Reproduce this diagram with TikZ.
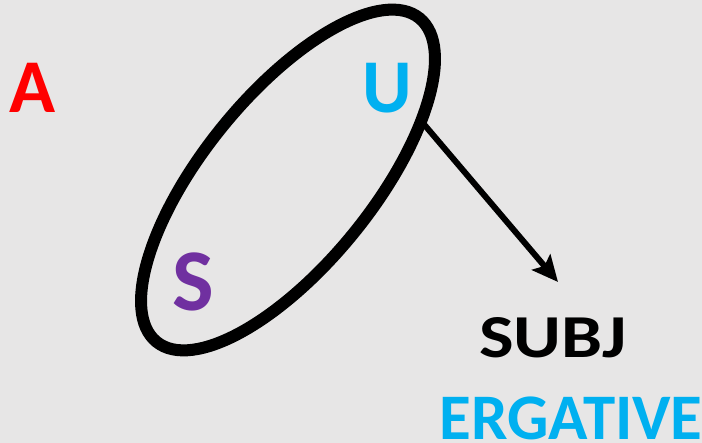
\documentclass[tikz,border=0pt]{standalone}
\usepackage{fontspec}
\setmainfont{Carlito}
\usetikzlibrary{shapes.geometric,arrows.meta}
\definecolor{bgc}{HTML}{E7E6E6}
\definecolor{cyanc}{HTML}{00B0F0}
\definecolor{purplec}{HTML}{7030A0}
\tikzset{
  lbl/.style={anchor=base, inner sep=0pt, font=\bfseries},
}
\begin{document}
\begin{tikzpicture}[x=1pt,y=1pt]
\fill[bgc] (0,0) rectangle (702,443);
\useasboundingbox (0,0) rectangle (702,443);
\node[lbl, text=red, font=\fontsize{76}{76}\selectfont\bfseries] (A) at (33,330) {A};
\node[lbl, text=cyanc, font=\fontsize{76}{76}\selectfont\bfseries] (U) at (387.5,330) {U};
\node[lbl, text=purplec, font=\fontsize{88}{88}\selectfont\bfseries] (S) at (193,132) {S};
\node[lbl, text=black, xscale=1.2, font=\fontsize{61}{61}\selectfont\bfseries] (SUBJ) at (553,85) {SUBJ};
\node[lbl, text=cyanc, font=\fontsize{65}{65}\selectfont\bfseries] (ERG) at (571,3) {ERGATIVE};
\node[ellipse, draw, line width=12pt, rotate=50.9, minimum width=417pt, minimum height=169pt, inner sep=0pt, outer sep=0pt] (E) at (288,263) {};
\coordinate (tip) at (558,161);
\draw[line width=6pt, -{Stealth[length=26pt,width=24pt,inset=5pt]}] (E.-27) -- (tip);
\end{tikzpicture}
\end{document}
